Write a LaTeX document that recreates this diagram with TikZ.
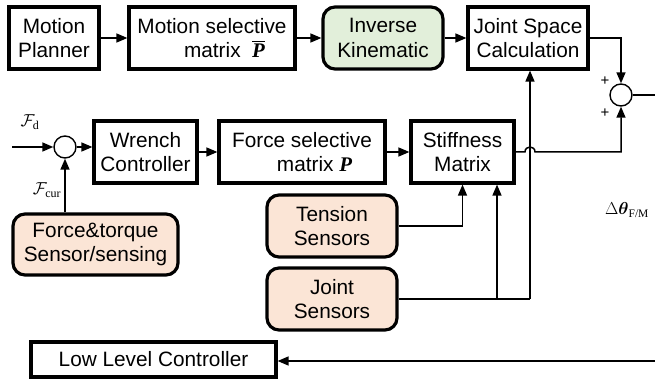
\documentclass[tikz,border=0pt]{standalone}
\usepackage{amsmath}
\usepackage{fontspec}
\setmainfont{Liberation Sans}
\newfontfamily\tms{Liberation Serif}
\usetikzlibrary{arrows.meta}
\definecolor{ikgreen}{RGB}{226,239,218}
\definecolor{sensorpeach}{RGB}{251,229,214}
\begin{document}
\begin{tikzpicture}[x=1pt,y=-1pt,
  blk/.style={draw, line width=3.2pt, align=center, inner sep=0pt,
    font=\fontsize{20.8}{24.5}\selectfont, minimum height=62pt},
  rblk/.style={blk, rounded corners=12pt},
  sumc/.style={draw, circle, line width=1.4pt, minimum size=22pt, inner sep=0pt},
  conn/.style={line width=1.5pt, -{Triangle[length=11pt,width=9pt]}},
  plain/.style={line width=1.5pt},
  lbl/.style={inner sep=0pt, font=\fontsize{19}{21}\selectfont}]
\useasboundingbox (0,0) rectangle (655,379);
% top row
\node[blk, minimum width=90pt] (mp) at (54,38) {Motion\\Planner};
\node[blk, minimum width=166pt] (ms) at (212,38) {Motion selective\\\hspace*{1.2em}matrix \ $\overline{\mbox{\tms\bfseries\itshape P}}$};
\node[rblk, fill=ikgreen, minimum width=120pt] (ik) at (383,38) {Inverse\\Kinematic};
\node[blk, minimum width=120pt] (jsc) at (528,38) {Joint Space\\Calculation};
\node[sumc] (c1) at (621,95) {};
\coordinate (out1) at (655,95);
% middle row
\node[sumc] (c2) at (65,147) {};
\coordinate (in2) at (12,147);
\node[blk, minimum width=103pt] (wc) at (145.5,152) {Wrench\\Controller};
\node[blk, minimum width=166pt] (fs) at (302,152) {Force selective\\\hspace*{1.2em}matrix {\tms\bfseries\itshape P}};
\node[blk, minimum width=103pt] (sm) at (462.5,152) {Stiffness\\Matrix};
% sensors
\node[rblk, fill=sensorpeach, minimum width=165pt, minimum height=61pt] (ft) at (95.5,244.5) {Force\&torque\\Sensor/sensing};
\node[rblk, fill=sensorpeach, minimum width=130pt] (ts) at (332,226) {Tension\\Sensors};
\node[rblk, fill=sensorpeach, minimum width=130pt] (js) at (332,299) {Joint\\Sensors};
\coordinate (j1) at (497,299);
\coordinate (j2) at (530,299);
% bottom
\node[blk, minimum width=245pt, minimum height=35pt] (llc) at (153.5,359.5) {Low Level Controller};
\coordinate (in3) at (655,361);
% labels
\node[lbl] (fd) at (30,122) {$\mathcal{F}_{\text{\tms\fontsize{12}{13}\selectfont d}}$};
\node[lbl] (fcur) at (47,190) {$\mathcal{F}_{\text{\tms\fontsize{12}{13}\selectfont cur}}$};
\node[lbl] (dth) at (627,210) {$\Delta\boldsymbol{\theta}_{\text{\tms\fontsize{11.5}{12}\selectfont F/M}}$};
\node[lbl, font=\fontsize{15}{16}\selectfont] (p1) at (605,81) {+};
\node[lbl, font=\fontsize{15}{16}\selectfont] (p2) at (605,113) {+};
% connectors
\draw[conn] (mp) -- (ms);
\draw[conn] (ms) -- (ik);
\draw[conn] (ik) -- (jsc);
\draw[conn] (jsc.east) -| (c1.north);
\draw[plain] (c1.east) -- (out1);
\draw[conn] (in2) -- (c2.west);
\draw[conn] (c2.east) -- (c2.east -| wc.west);
\draw[conn] (ft.north -| c2) -- (c2.south);
\draw[conn] (wc) -- (fs);
\draw[conn] (fs) -- (sm);
\draw[conn] (ts.east) -| (sm.south);
\draw[plain] (js.east) -- (j2);
\draw[conn] (j1) -- (j1 |- sm.south);
\draw[conn] (j2) -- (j2 |- jsc.south);
\draw[conn] (sm.east) -- (525,152) .. controls (525,145.3) and (535,145.3) .. (535,152) -- (621,152) -- (c1.south);
\draw[conn] (in3) -- (in3 -| llc.east);
\end{tikzpicture}
\end{document}
